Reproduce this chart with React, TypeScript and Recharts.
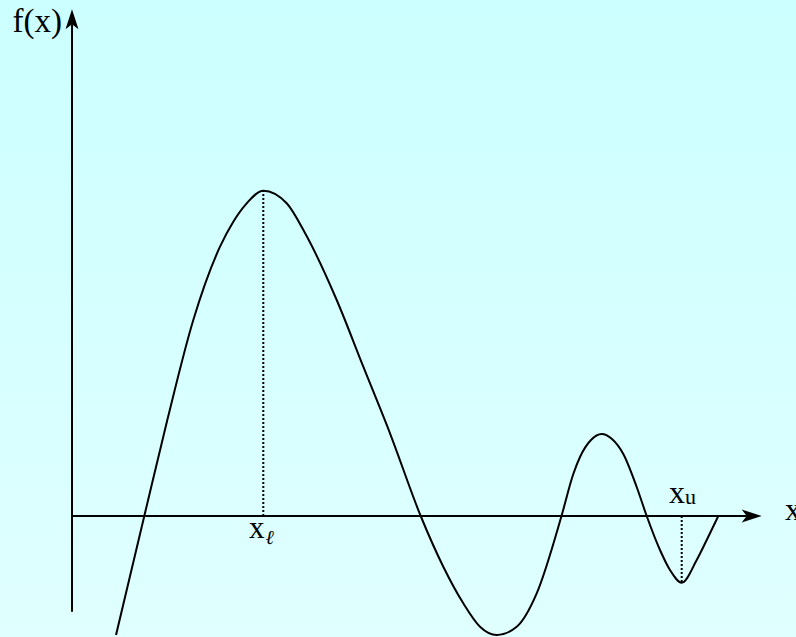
import { LineChart, Line, XAxis, YAxis, ReferenceLine, ReferenceDot } from "recharts";

// curve (x and f(x) in arbitrary units, origin where the axes cross)
const curveX = [
  4.4, 7.23, 9.53, 12.13, 14.8, 16.13, 17.47, 19.13, 21.47, 23.3, 26.47, 29.13, 31.8, 34.87,
  37.13, 39.13, 40.8, 42.47, 44.47, 46.47, 48.95, 50.13, 50.8, 51.9, 52.97, 54.0, 55.13,
  56.47, 57.47, 58.8, 59.8, 60.97, 62.47, 63.63, 64.63,
];
const curveY = [
  -11.9, 0, 9.6, 19.6, 26.93, 29.43, 31.27, 32.53, 31.27, 28.3, 21.6, 14.93, 8.27, 0,
  -5.07, -8.73, -11.07, -11.9, -11.07, -7.73, 0, 4.2, 5.9, 7.6, 8.2, 7.7, 6.2,
  2.9, 0, -3.4, -5.4, -6.67, -4.4, -2.07, 0,
];

// axis extents
const xAxisEnd = 68.97;
const yAxisBottom = -9.57;
const yAxisTop = 50.67;

// x_l (maximum) and x_u (minimum)
const xLower = 19.13;
const fLower = 32.53;
const xUpper = 60.97;
const fUpper = -6.67;

const data = curveX.map((x, i) => ({ x, y: curveY[i] }));

const FONT = "'Liberation Serif', 'Times New Roman', serif";

function ArrowAxis(props: any) {
  const { x1, y1, x2, y2 } = props;
  const a = Math.atan2(y2 - y1, x2 - x1);
  const ux = Math.cos(a);
  const uy = Math.sin(a);
  const p = (back: number, side: number) =>
    `${x2 - back * ux - side * uy},${y2 - back * uy + side * ux}`;
  return (
    <g>
      <line
        x1={x1}
        y1={y1}
        x2={x2 - 15 * ux}
        y2={y2 - 15 * uy}
        stroke="#000"
        strokeWidth={2}
      />
      <polygon points={[p(0, 0), p(20, 6.5), p(15, 0), p(20, -6.5)].join(" ")} fill="#000" />
    </g>
  );
}

export default function App() {
  return (
    <div
      style={{
        position: "absolute",
        top: 0,
        left: 0,
        width: 796,
        height: 637,
        background: "linear-gradient(#ccffff, #e0ffff)",
        overflow: "hidden",
      }}
    >
      <LineChart width={796} height={637} data={data} margin={{ top: 0, right: 0, bottom: 0, left: 0 }}>
        <XAxis type="number" dataKey="x" domain={[-7.2, 72.4]} allowDataOverflow hide />
        <YAxis type="number" domain={[-12.1, 51.6]} allowDataOverflow hide />

        <ReferenceLine
          segment={[{ x: 0, y: 0 }, { x: xAxisEnd, y: 0 }]}
          shape={ArrowAxis}
        />
        <ReferenceLine
          segment={[{ x: 0, y: yAxisBottom }, { x: 0, y: yAxisTop }]}
          shape={ArrowAxis}
        />
        <ReferenceLine
          segment={[{ x: xLower, y: 0 }, { x: xLower, y: fLower }]}
          stroke="#000"
          strokeWidth={2}
          strokeDasharray="2 2"
        />
        <ReferenceLine
          segment={[{ x: xUpper, y: 0 }, { x: xUpper, y: fUpper }]}
          stroke="#000"
          strokeWidth={2}
          strokeDasharray="2 2"
        />

        <Line
          type="monotone"
          dataKey="y"
          stroke="#000"
          strokeWidth={2}
          dot={false}
          activeDot={false}
          isAnimationActive={false}
        />

        <ReferenceDot
          x={-1}
          y={48.4}
          r={0}
          shape={(p: any) => (
            <text x={p.cx} y={p.cy} textAnchor="end" fontFamily={FONT} fontSize={33} fill="#000">
              f(x)
            </text>
          )}
        />
        <ReferenceDot
          x={71.3}
          y={-0.4}
          r={0}
          shape={(p: any) => (
            <text x={p.cx} y={p.cy} fontFamily={FONT} fontSize={32} fill="#000">
              x
            </text>
          )}
        />
        <ReferenceDot
          x={59.7}
          y={1.3}
          r={0}
          shape={(p: any) => (
            <text x={p.cx} y={p.cy} fontFamily={FONT} fontSize={32} fill="#000">
              x
              <tspan fontSize={22} dy={1}>
                u
              </tspan>
            </text>
          )}
        />
        <ReferenceDot
          x={17.7}
          y={-2.2}
          r={0}
          shape={(p: any) => (
            <text x={p.cx} y={p.cy} fontFamily={FONT} fontSize={31} fill="#000">
              x
              <tspan fontSize={20} fontStyle="italic" dx={1} dy={6}>
                ℓ
              </tspan>
            </text>
          )}
        />
      </LineChart>
    </div>
  );
}
